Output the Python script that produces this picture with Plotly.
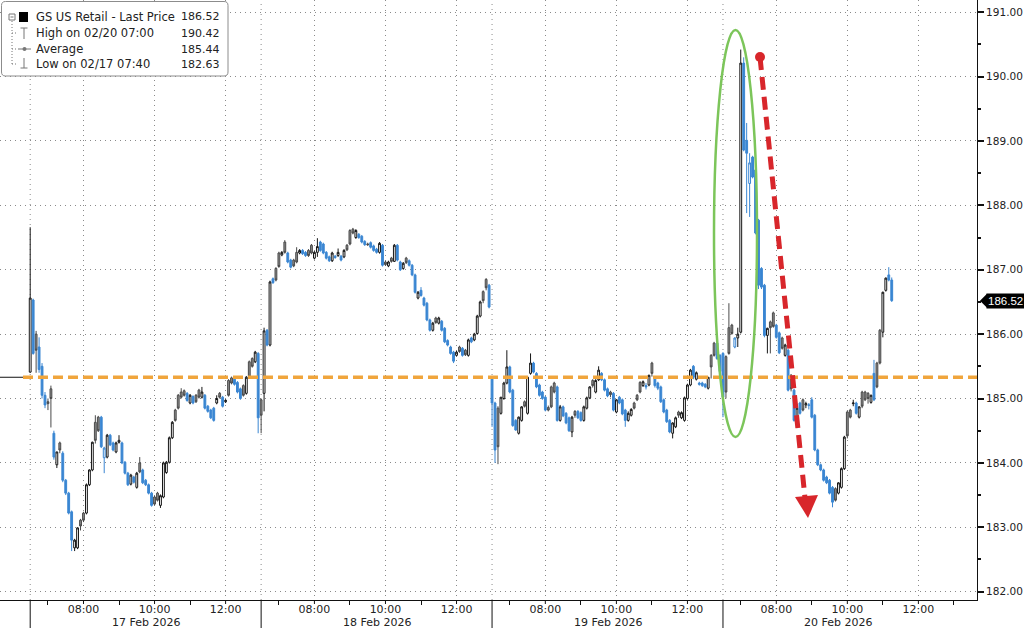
import numpy as np
import pandas as pd
import plotly.graph_objects as go

# ---------------- data (5-minute bars, session 06:30-13:00) ----------------
DAYS = ["2026-02-17", "2026-02-18", "2026-02-19", "2026-02-20"]
DAY_LABELS = ["17 Feb 2026", "18 Feb 2026", "19 Feb 2026", "20 Feb 2026"]
SESSION_OPEN = "06:30"
SESSION_CLOSE = "13:00"
TICK_LABELS = ["08:00", "10:00", "12:00"]
MINOR_HOURS = ["07:00", "09:00", "11:00", "13:00"]

OPEN_17 = [185.41,186.53,186.00,185.80,185.50,185.05,184.95,185.15,184.46,183.97,
           184.31,184.15,183.73,183.53,183.24,182.68,182.68,183.11,183.22,183.22,
           183.66,183.89,184.63,184.71,184.71,184.08,184.09,184.43,184.31,184.17,
           184.32,184.31,184.01,183.84,183.67,183.78,183.62,184.00,183.89,183.73,
           183.66,183.53,183.47,183.53,183.34,183.47,183.85,184.01,184.39,184.82,
           185.05,185.10,185.12,185.08,184.93,185.03,185.05,185.13,185.02,185.05,
           184.88,184.82,184.85,184.93,185.08,185.02,184.95,185.28,185.32,185.30,
           185.25,185.15,185.20,185.08,185.57,185.62,185.57,185.70]
HIGH_17 = [187.66,186.55,186.05,185.95,185.55,185.10,185.00,185.20,184.50,184.17,
           184.33,184.18,183.75,183.55,183.26,182.82,183.00,183.13,183.24,183.68,
           183.90,184.33,184.74,184.73,184.73,184.25,184.45,184.45,184.33,184.33,
           184.43,184.33,184.03,183.86,183.83,183.80,183.86,184.09,183.91,183.75,
           183.68,183.55,183.49,183.55,183.51,184.02,184.03,184.41,184.65,184.84,
           185.07,185.16,185.14,185.10,185.07,185.05,185.07,185.15,185.18,185.07,
           184.90,184.84,184.87,185.05,185.10,185.04,184.99,185.30,185.34,185.32,
           185.27,185.17,185.22,185.35,185.59,185.64,185.74,185.72]
LOW_17 = [185.40,185.68,185.40,185.40,185.00,184.85,184.82,184.55,184.05,183.92,
          184.15,183.70,183.50,183.20,182.63,182.63,182.66,182.95,183.08,183.20,
          183.64,183.87,184.30,184.48,184.23,183.84,184.07,184.26,184.18,184.15,
          184.30,183.98,183.82,183.64,183.65,183.68,183.60,183.84,183.67,183.64,
          183.51,183.32,183.34,183.40,183.30,183.45,183.83,183.99,184.37,184.64,
          184.83,185.00,185.03,184.95,184.91,184.91,184.93,185.00,185.00,184.83,
          184.78,184.68,184.64,184.91,185.00,184.86,184.93,185.03,185.22,185.20,
          185.08,184.98,185.03,185.06,185.31,185.48,185.55,184.46]
CLOSE_17 = [186.56,185.70,185.75,185.45,185.05,184.90,184.92,185.00,184.09,184.17,
            184.20,183.73,183.53,183.22,182.80,182.80,182.99,183.02,183.11,183.66,
            183.89,184.32,184.35,184.50,184.25,184.23,184.43,184.28,184.20,184.31,
            184.35,184.00,183.84,183.66,183.81,183.70,183.84,183.86,183.69,183.66,
            183.53,183.34,183.36,183.42,183.49,184.00,184.01,184.39,184.63,184.66,
            184.85,185.02,185.05,184.97,185.05,184.93,184.95,185.02,185.10,184.85,
            184.80,184.70,184.66,185.00,185.02,184.88,184.97,185.05,185.24,185.22,
            185.10,185.00,185.05,185.33,185.33,185.50,185.72,184.70]

OPEN_18 = [184.98,185.08,186.06,185.83,186.86,187.02,187.26,187.23,187.43,187.26,
           187.15,187.15,187.27,187.26,187.30,187.27,187.30,187.38,187.18,187.27,
           187.43,187.40,187.27,187.20,187.14,187.21,187.22,187.21,187.20,187.38,
           187.61,187.63,187.50,187.55,187.52,187.44,187.40,187.42,187.37,187.32,
           187.27,187.38,187.12,187.06,187.18,187.13,187.38,187.12,187.02,187.18,
           187.14,187.07,186.92,186.56,186.68,186.56,186.48,186.22,186.06,186.25,
           186.17,186.20,186.09,185.90,185.80,185.72,185.67,185.80,185.78,185.75,
           185.67,185.94,185.91,186.01,186.28,186.66,186.85,186.76]
HIGH_18 = [185.00,186.10,186.08,186.83,186.88,187.04,187.28,187.29,187.46,187.28,
           187.17,187.17,187.35,187.32,187.32,187.29,187.32,187.40,187.29,187.49,
           187.45,187.42,187.29,187.22,187.28,187.23,187.33,187.23,187.32,187.40,
           187.63,187.65,187.63,187.57,187.54,187.46,187.42,187.44,187.39,187.34,
           187.43,187.40,187.14,187.14,187.20,187.40,187.40,187.14,187.12,187.20,
           187.16,187.09,186.94,186.67,186.73,186.58,186.50,186.24,186.19,186.27,
           186.27,186.22,186.11,185.92,185.82,185.74,185.74,185.82,185.80,185.77,
           185.93,185.96,186.02,186.30,186.52,186.68,186.87,186.78]
LOW_18 = [184.46,184.80,185.81,185.81,186.78,186.82,187.03,187.21,187.25,187.10,
          187.02,187.04,187.10,187.24,187.23,187.20,187.20,187.24,187.16,187.20,
          187.28,187.24,187.16,187.12,187.12,187.17,187.20,187.13,187.18,187.29,
          187.38,187.55,187.48,187.48,187.41,187.37,187.37,187.33,187.28,187.25,
          187.25,187.05,187.06,187.04,187.11,187.12,187.13,186.98,187.00,187.09,
          187.05,186.90,186.63,186.54,186.58,186.43,186.20,186.04,186.04,186.16,
          186.15,186.04,185.86,185.81,185.68,185.55,185.65,185.71,185.65,185.66,
          185.65,185.86,185.89,185.99,186.26,186.48,186.68,186.40]
CLOSE_18 = [184.74,186.05,185.83,186.81,186.80,186.84,187.05,187.27,187.27,187.12,
            187.04,187.06,187.12,187.30,187.25,187.22,187.22,187.26,187.27,187.36,
            187.30,187.26,187.18,187.14,187.26,187.19,187.27,187.15,187.30,187.31,
            187.40,187.57,187.61,187.50,187.43,187.39,187.39,187.35,187.30,187.27,
            187.41,187.07,187.08,187.12,187.13,187.38,187.15,187.00,187.10,187.11,
            187.07,186.92,186.65,186.65,186.60,186.45,186.22,186.06,186.17,186.18,
            186.25,186.06,185.88,185.83,185.70,185.58,185.72,185.73,185.67,185.68,
            185.91,185.88,186.00,186.28,186.50,186.52,186.72,186.42]

OPEN_19 = [185.33,184.93,184.85,184.77,185.00,185.24,185.49,185.13,184.66,184.46,
           184.66,184.95,184.77,185.39,185.55,185.39,185.21,185.10,185.02,184.86,
           185.18,185.24,185.18,184.66,184.87,184.77,184.70,184.48,184.80,184.80,
           184.78,184.66,184.85,185.01,185.28,185.10,185.29,185.39,185.29,185.15,
           185.10,185.08,184.79,185.02,184.98,184.82,184.66,184.74,184.93,185.05,
           185.25,185.20,185.20,185.21,185.55,185.33,185.24,185.18,184.98,184.82,
           184.66,184.46,184.56,184.79,184.70,184.66,185.00,185.21,185.50,185.30,
           185.24,185.24,185.22,185.16,185.67,185.86,185.86,185.67]
HIGH_19 = [185.35,184.95,184.88,185.02,185.26,185.75,185.51,185.15,184.68,184.72,
           184.88,184.97,185.34,185.70,185.57,185.41,185.23,185.12,185.04,184.89,
           185.20,185.26,185.20,184.90,184.89,184.79,184.72,184.73,184.82,184.82,
           184.80,184.89,185.03,185.19,185.30,185.30,185.50,185.41,185.31,185.17,
           185.12,185.10,184.99,185.04,185.00,184.84,184.80,184.85,184.95,185.07,
           185.27,185.28,185.24,185.37,185.57,185.35,185.26,185.20,185.00,184.84,
           184.68,184.63,184.72,184.81,184.80,185.03,185.23,185.46,185.52,185.42,
           185.26,185.26,185.24,185.33,185.69,185.88,185.88,185.69]
LOW_19 = [184.56,184.00,183.98,184.75,184.98,185.22,185.08,184.56,184.50,184.44,
          184.64,184.86,184.75,185.37,185.39,185.16,185.03,184.98,184.80,184.80,
          184.85,185.08,184.64,184.64,184.71,184.60,184.48,184.40,184.70,184.68,
          184.64,184.64,184.83,184.99,185.17,185.08,185.27,185.27,185.11,185.02,
          185.02,184.80,184.77,184.91,184.74,184.56,184.64,184.72,184.83,184.96,
          185.08,185.18,185.14,185.19,185.34,185.17,185.13,184.93,184.77,184.62,
          184.46,184.38,184.54,184.70,184.68,184.64,184.98,185.19,185.30,185.28,
          185.20,185.18,185.16,185.14,185.31,185.65,185.60,185.40]
CLOSE_19 = [184.93,184.20,184.25,185.02,185.24,185.49,185.10,184.58,184.51,184.71,
            184.87,184.88,185.33,185.55,185.41,185.18,185.05,185.00,184.82,184.82,
            184.87,185.10,184.66,184.87,184.73,184.62,184.50,184.71,184.74,184.70,
            184.66,184.87,185.01,185.18,185.20,185.28,185.44,185.29,185.13,185.04,
            185.06,184.82,184.98,184.93,184.76,184.66,184.77,184.83,184.85,184.98,
            185.10,185.26,185.18,185.36,185.39,185.20,185.16,184.95,184.79,184.64,
            184.48,184.62,184.70,184.74,184.78,185.01,185.21,185.44,185.33,185.40,
            185.22,185.20,185.18,185.33,185.49,185.67,185.62,185.42]

OPEN_20 = [185.70,185.65,186.10,186.14,185.80,185.94,186.03,190.21,189.01,188.34,
           188.75,188.55,187.77,187.02,186.76,185.98,186.19,186.33,186.14,186.02,
           185.94,185.67,185.75,185.36,185.13,184.63,184.93,184.98,184.90,184.89,
           184.98,184.74,184.20,183.97,183.89,183.78,183.73,183.62,183.60,183.53,
           183.62,183.91,184.79,184.82,184.92,184.93,184.71,185.10,185.10,185.08,
           184.94,185.39,185.55,186.06,186.03,186.68,186.92,186.84]
HIGH_20 = [185.72,185.67,186.48,186.16,185.95,186.10,190.42,190.30,189.28,188.81,
           188.77,188.57,187.79,187.04,186.78,186.10,186.21,186.35,186.16,186.04,
           185.96,185.85,185.77,185.38,185.15,184.86,184.95,185.00,184.95,184.93,
           185.02,184.76,184.22,183.99,183.91,183.80,183.75,183.64,183.62,183.70,
           183.93,184.42,184.81,184.84,184.98,184.95,184.88,185.12,185.12,185.10,
           185.06,185.60,185.57,186.08,186.66,186.88,187.04,186.88]
LOW_20 = [184.71,185.00,185.68,185.99,185.78,185.80,186.01,188.84,187.88,187.82,
          188.42,187.55,186.70,186.70,185.95,185.70,185.70,186.10,185.93,185.69,
          185.76,185.65,185.11,185.11,184.64,184.54,184.75,184.80,184.85,184.83,
          184.69,184.18,183.95,183.87,183.71,183.67,183.51,183.31,183.40,183.51,
          183.60,183.89,184.38,184.69,184.88,184.75,184.69,184.85,184.96,184.92,
          184.92,184.96,185.16,185.53,185.95,186.66,186.82,186.50]
CLOSE_20 = [185.02,185.10,185.70,186.01,185.94,186.00,190.21,188.86,188.81,188.66,
            188.44,187.57,186.76,186.73,185.98,186.09,186.10,186.12,185.95,185.71,
            185.78,185.83,185.13,185.15,184.66,184.85,184.77,184.82,184.92,184.90,
            184.71,184.20,183.97,183.89,183.73,183.69,183.53,183.39,183.42,183.69,
            183.91,184.40,184.42,184.71,184.93,184.77,184.87,184.88,184.98,185.00,
            185.05,184.98,185.18,185.55,186.65,186.87,186.84,186.52]

SERIES_NAME = "GS US Retail - Last Price"
LEGEND_ROWS = [("High on 02/20 07:00", "190.42"), ("Average", "185.44"), ("Low on 02/17 07:40", "182.63")]
AVERAGE_LEVEL = 185.33      # where the dashed average line is drawn
Y_RANGE = [181.87, 191.19]

# ---------------- assemble ----------------
opens = np.array(OPEN_17 + OPEN_18 + OPEN_19 + OPEN_20)
highs = np.array(HIGH_17 + HIGH_18 + HIGH_19 + HIGH_20)
lows = np.array(LOW_17 + LOW_18 + LOW_19 + LOW_20)
closes = np.array(CLOSE_17 + CLOSE_18 + CLOSE_19 + CLOSE_20)
counts = [len(CLOSE_17), len(CLOSE_18), len(CLOSE_19), len(CLOSE_20)]
times = []
for day, n in zip(DAYS, counts):
    times += list(pd.date_range(f"{day} {SESSION_OPEN}", periods=n, freq="5min"))
times = np.array(times)
last_price = closes[-1]

prev_close = np.concatenate([[opens[0]], closes[:-1]])
up = closes >= opens
up_prev = closes >= prev_close
BLUE = "#3a86d2"
classes = [
    (up & up_prev, "white", "#151515"),
    (up & ~up_prev, "white", BLUE),
    (~up & up_prev, "#8c8c8c", "#4a4a4a"),
    (~up & ~up_prev, BLUE, BLUE),
]

fig = go.Figure()
for mask, fill, line in classes:
    idx = np.where(mask)[0]
    if len(idx) == 0:
        continue
    style = dict(fillcolor=fill, line=dict(color=line, width=1))
    fig.add_trace(go.Candlestick(
        x=times[idx], open=opens[idx], high=highs[idx], low=lows[idx], close=closes[idx],
        increasing=style, decreasing=style, whiskerwidth=0,
        showlegend=False, hoverinfo="skip"))

# ---------------- helpers for decorations (pixel -> paper) ----------------
PLOT_W, PLOT_H = 977.0, 600.0
def px(x):
    return x / PLOT_W
def py(y):
    return 1 - y / PLOT_H

shapes = []
annotations = []

# session boundaries: dotted inside plot, solid below axis
for day in DAYS:
    t = f"{day} {SESSION_OPEN}"
    shapes.append(dict(type="line", xref="x", yref="paper", x0=t, x1=t, y0=0, y1=1,
                       line=dict(color="#8a8a8a", width=1, dash="1px,4px"), layer="below"))
    shapes.append(dict(type="line", xref="x", yref="paper", x0=t, x1=t, y0=py(628), y1=0,
                       line=dict(color="#111", width=1)))
# major hour tick marks (labels sit close to the axis line)
for d in DAYS:
    for h in TICK_LABELS:
        t = f"{d} {h}"
        shapes.append(dict(type="line", xref="x", yref="paper", x0=t, x1=t, y0=py(604), y1=0,
                           line=dict(color="#111", width=1)))

# average line
shapes.append(dict(type="line", xref="paper", yref="y", x0=0, x1=px(23), y0=AVERAGE_LEVEL, y1=AVERAGE_LEVEL,
                   line=dict(color="#111", width=1)))
shapes.append(dict(type="line", xref="paper", yref="y", x0=px(23), x1=1, y0=AVERAGE_LEVEL, y1=AVERAGE_LEVEL,
                   line=dict(color="#f0a53c", width=3.5, dash="10px,5px")))

# green ellipse
shapes.append(dict(type="circle", xref="paper", yref="paper", x0=px(714), x1=px(757), y0=py(437), y1=py(30),
                   line=dict(color="#7cc55a", width=2.5)))
# red dashed arrow
shapes.append(dict(type="line", xref="paper", yref="paper", x0=px(760), y0=py(57), x1=px(805), y1=py(498),
                   line=dict(color="#d8262b", width=5, dash="13px,7px")))
shapes.append(dict(type="circle", xref="paper", yref="paper", x0=px(755), x1=px(765), y0=py(62), y1=py(52),
                   fillcolor="#d8262b", line=dict(color="#d8262b", width=0)))
tri = [(808, 518), (795, 497), (818, 495)]
shapes.append(dict(type="path", xref="paper", yref="paper",
                   path="M {} {} L {} {} L {} {} Z".format(*sum([(px(a), py(b)) for a, b in tri], ())),
                   fillcolor="#d8262b", line=dict(color="#d8262b", width=0)))

# legend box (rounded)
def rounded_rect(x0, y0, x1, y1, r):
    pts = [("M", x0 + r, y0), ("L", x1 - r, y0), ("Q", x1, y0, x1, y0 + r), ("L", x1, y1 - r),
           ("Q", x1, y1, x1 - r, y1), ("L", x0 + r, y1), ("Q", x0, y1, x0, y1 - r), ("L", x0, y0 + r),
           ("Q", x0, y0, x0 + r, y0)]
    out = []
    for p in pts:
        cmd, vals = p[0], p[1:]
        coords = []
        for i in range(0, len(vals), 2):
            coords.append(f"{px(vals[i]):.5f},{py(vals[i+1]):.5f}")
        out.append(cmd + " " + " ".join(coords))
    return " ".join(out) + " Z"
shapes.append(dict(type="path", xref="paper", yref="paper", path=rounded_rect(1.5, 1.5, 228, 76, 4),
                   fillcolor="white", line=dict(color="#8c8c8c", width=1)))
# legend icons
G = "#777"
shapes += [
    dict(type="rect", xref="paper", yref="paper", x0=px(9), x1=px(15), y0=py(20), y1=py(14), line=dict(color=G, width=1)),
    dict(type="line", xref="paper", yref="paper", x0=px(10.5), x1=px(13.5), y0=py(17), y1=py(17), line=dict(color=G, width=1)),
    dict(type="rect", xref="paper", yref="paper", x0=px(19), x1=px(28), y0=py(22), y1=py(12), fillcolor="#000", line=dict(color="#000", width=0)),
    dict(type="line", xref="paper", yref="paper", x0=px(12), x1=px(12), y0=py(21), y1=py(64), line=dict(color=G, width=1, dash="1px,2px")),
    dict(type="line", xref="paper", yref="paper", x0=px(12), x1=px(17), y0=py(33), y1=py(33), line=dict(color=G, width=1, dash="1px,2px")),
    dict(type="line", xref="paper", yref="paper", x0=px(12), x1=px(17), y0=py(49), y1=py(49), line=dict(color=G, width=1, dash="1px,2px")),
    dict(type="line", xref="paper", yref="paper", x0=px(12), x1=px(17), y0=py(64), y1=py(64), line=dict(color=G, width=1, dash="1px,2px")),
    dict(type="line", xref="paper", yref="paper", x0=px(24), x1=px(24), y0=py(28), y1=py(39), line=dict(color=G, width=1)),
    dict(type="line", xref="paper", yref="paper", x0=px(20.5), x1=px(27.5), y0=py(28), y1=py(28), line=dict(color=G, width=1)),
    dict(type="line", xref="paper", yref="paper", x0=px(18), x1=px(31), y0=py(49), y1=py(49), line=dict(color=G, width=1)),
    dict(type="circle", xref="paper", yref="paper", x0=px(22.5), x1=px(26.5), y0=py(51), y1=py(47), fillcolor=G, line=dict(color=G, width=0)),
    dict(type="line", xref="paper", yref="paper", x0=px(24), x1=px(24), y0=py(58), y1=py(68), line=dict(color=G, width=1)),
    dict(type="line", xref="paper", yref="paper", x0=px(20.5), x1=px(27.5), y0=py(68), y1=py(68), line=dict(color=G, width=1)),
]
legend_rows = [(SERIES_NAME, f"{last_price:.2f}")] + LEGEND_ROWS
for (label, val), yy in zip(legend_rows, [17, 33, 49, 64]):
    annotations.append(dict(xref="paper", yref="paper", x=px(34), y=py(yy), text=label, showarrow=False,
                            xanchor="left", yanchor="middle", font=dict(size=11.5, color="#222")))
    annotations.append(dict(xref="paper", yref="paper", x=px(222), y=py(yy), text=val, showarrow=False,
                            xanchor="right", yanchor="middle", font=dict(size=11, color="#222")))

# last price tag on the right axis
tag_h = 7 / 64.4
shapes.append(dict(type="path", xref="paper", yref="y",
                   path=f"M {px(980)} {last_price} L {px(987)} {last_price + tag_h} L {px(987)} {last_price - tag_h} Z",
                   fillcolor="#000", line=dict(color="#000", width=0)))
annotations.append(dict(xref="paper", yref="y", x=px(986), y=last_price, text=f"{last_price:.2f}",
                        showarrow=False, xanchor="left", yanchor="middle", bgcolor="#000",
                        font=dict(family="Liberation Sans", size=11.5, color="white"), borderpad=1))

# date labels under each session
for day, lab in zip(DAYS, DAY_LABELS):
    annotations.append(dict(xref="x", yref="paper", x=f"{day} 09:45", y=py(622.5), text=lab,
                            showarrow=False, xanchor="center", yanchor="middle", font=dict(size=11, color="#222")))

# ---------------- axes ----------------
major_ticks = [f"{d} {h}" for d in DAYS for h in TICK_LABELS]
major_text = [h for d in DAYS for h in TICK_LABELS]
minor_ticks = [f"{d} {h}" for d in DAYS for h in MINOR_HOURS]
x_start = pd.Timestamp(f"{DAYS[0]} {SESSION_OPEN}") - pd.Timedelta(minutes=51)
x_end = pd.Timestamp(f"{DAYS[-1]} 13:39")
break_ms = (pd.Timedelta(hours=24) - (pd.Timestamp(f"2000-01-01 {SESSION_CLOSE}") - pd.Timestamp(f"2000-01-01 {SESSION_OPEN}"))) / pd.Timedelta(milliseconds=1)

fig.update_layout(
    width=1024, height=628,
    margin=dict(l=0, r=47, t=0, b=28),
    paper_bgcolor="white", plot_bgcolor="white",
    showlegend=False, boxgap=0.12,
    font=dict(family="DejaVu Sans", size=11, color="#222"),
    shapes=shapes, annotations=annotations,
    xaxis=dict(
        type="date", range=[x_start, x_end],
        rangebreaks=[dict(values=[f"{d} {SESSION_CLOSE}" for d in DAYS[:-1]], dvalue=break_ms)],
        rangeslider=dict(visible=False),
        tickmode="array", tickvals=major_ticks, ticktext=major_text,
        ticks="", ticklen=0, ticklabelstandoff=-1,
        showgrid=True, gridcolor="#8a8a8a", griddash="1px,4px", gridwidth=1,
        minor=dict(tickmode="array", tickvals=minor_ticks, ticks="outside", ticklen=4, tickcolor="#111", showgrid=False),
        showline=True, linecolor="#111", linewidth=1, zeroline=False,
        tickfont=dict(size=11, color="#222"), fixedrange=True,
    ),
    yaxis=dict(
        side="right", range=Y_RANGE, tick0=182, dtick=1, tickformat=".2f",
        ticks="outside", ticklen=6, tickwidth=2, tickcolor="#111",
        showline=True, linecolor="#111", linewidth=1,
        showgrid=True, gridcolor="#8a8a8a", griddash="1px,4px", gridwidth=1, zeroline=False,
        minor=dict(dtick=0.5, ticks="outside", ticklen=3, tickcolor="#111", showgrid=False),
        tickfont=dict(size=10.5, color="#222"), fixedrange=True,
    ),
)

fig.write_html("out.html", config={"displayModeBar": False},
               post_script="document.body.style.margin='0px';")
